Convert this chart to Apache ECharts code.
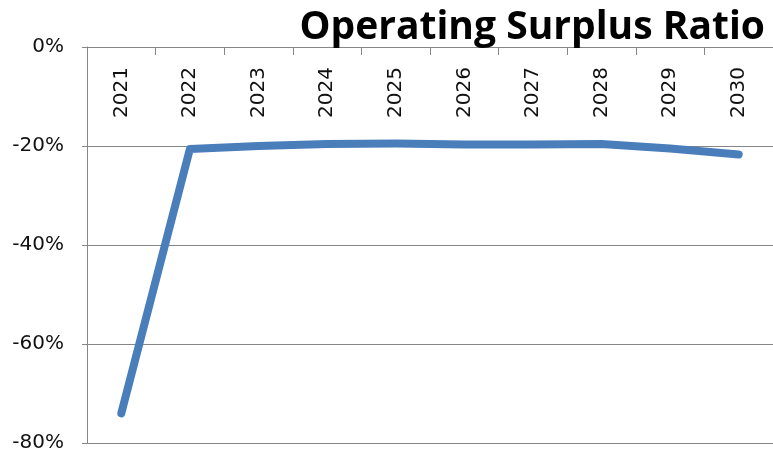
<!DOCTYPE html>
<html style="height:100%;">
<head>
	<meta charset="utf-8" />
	<title>Operating Surplus Ratio</title>
	<script type="text/javascript" src="https://cdn.jsdelivr.net/npm/echarts@6/dist/echarts.min.js"></script>
</head>
<body style="margin:0;padding:0;height:100%;background:#fff;">
	<div id="chart" style="width:773px;height:454px;"></div>
	<script type="text/javascript">
		const years = ['2021', '2022', '2023', '2024', '2025', '2026', '2027', '2028', '2029', '2030'];
		const surplusRatio = [-74, -20.6, -20.0, -19.6, -19.5, -19.7, -19.7, -19.6, -20.5, -21.7];
		const yTicks = { min: -80, max: 0, interval: 20 };

		const chart = echarts.init(document.getElementById('chart'));
		chart.setOption({
			animation: false,
			title: {
				text: 'Operating Surplus Ratio',
				right: 3,
				top: 3,
				textStyle: {
					fontFamily: 'Open Sans',
					fontWeight: 'bold',
					fontSize: 39,
					color: '#000'
				}
			},
			grid: { left: 87, right: 0, top: 47, bottom: 11 },
			xAxis: {
				type: 'category',
				position: 'top',
				data: years,
				boundaryGap: true,
				axisLine: { lineStyle: { color: '#868686', width: 1 } },
				axisTick: { show: true, inside: true, length: 8, lineStyle: { color: '#868686' } },
				axisLabel: {
					inside: true,
					rotate: 90,
					margin: 20,
					fontFamily: 'DejaVu Sans',
					fontSize: 20,
					color: '#111'
				},
				splitLine: { show: false }
			},
			yAxis: {
				type: 'value',
				min: yTicks.min,
				max: yTicks.max,
				interval: yTicks.interval,
				axisLine: { show: true, lineStyle: { color: '#868686', width: 1 } },
				axisTick: { show: true, length: 5, lineStyle: { color: '#868686' } },
				axisLabel: {
					formatter: '{value}%',
					margin: 23,
					fontFamily: 'DejaVu Sans',
					fontSize: 20,
					color: '#111'
				},
				splitLine: { lineStyle: { color: '#868686', width: 1 } }
			},
			series: [{
				type: 'line',
				data: surplusRatio,
				symbol: 'none',
				lineStyle: { color: '#4a7ebb', width: 8, cap: 'round', join: 'round' }
			}]
		});
	</script>
</body>
</html>
